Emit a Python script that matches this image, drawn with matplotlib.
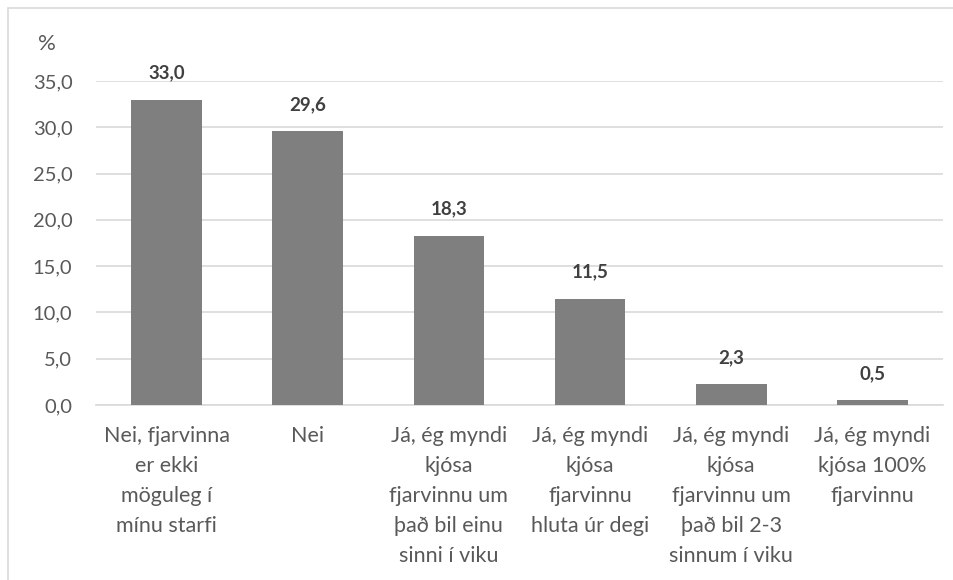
import matplotlib
matplotlib.use("Agg")
import matplotlib.pyplot as plt
from matplotlib.ticker import FuncFormatter
from matplotlib.patches import Rectangle

categories = [
    "Nei, fjarvinna\ner ekki\nmöguleg í\nmínu starfi",
    "Nei",
    "Já, ég myndi\nkjósa\nfjarvinnu um\nþað bil einu\nsinni í viku",
    "Já, ég myndi\nkjósa\nfjarvinnu\nhluta úr degi",
    "Já, ég myndi\nkjósa\nfjarvinnu um\nþað bil 2-3\nsinnum í viku",
    "Já, ég myndi\nkjósa 100%\nfjarvinnu",
]
values = [33.0, 29.6, 18.3, 11.5, 2.3, 0.5]
y_ticks = [0, 5, 10, 15, 20, 25, 30, 35]

plt.rcParams['font.family'] = ['Lato', 'DejaVu Sans']
text_color = "#595959"

fig = plt.figure(figsize=(9.54, 5.80), dpi=100)
# outer border (top and left visible)
fig.patches.append(Rectangle((8/954, -0.1), 1.2, (580-8)/580 + 0.1, transform=fig.transFigure,
                             fill=False, edgecolor="#d9d9d9", linewidth=1.2))

ax = fig.add_axes([96/954, (580-405)/580, (943-96)/954, (405-81)/580])
x = list(range(len(categories)))
ax.bar(x, values, width=0.5, color="#7f7f7f", zorder=3)
ax.set_xlim(-0.5, len(categories) - 0.5)
ax.set_ylim(0, 35)
ax.set_yticks(y_ticks)
ax.yaxis.set_major_formatter(FuncFormatter(lambda v, p: f"{v:.1f}".replace(".", ",")))
ax.grid(axis="y", color="#d9d9d9", linewidth=1.2, zorder=0)
for s in ["top", "right", "left"]:
    ax.spines[s].set_visible(False)
ax.spines["bottom"].set_color("#d9d9d9")
ax.spines["bottom"].set_linewidth(1.2)
ax.tick_params(axis="y", length=0, colors=text_color, labelsize=14.5, pad=17)
ax.tick_params(axis="x", length=0, colors=text_color, labelsize=15.5, pad=15)
ax.set_xticks(x)
ax.set_xticklabels(categories, linespacing=1.62)

for xi, v in zip(x, values):
    ax.annotate(f"{v:.1f}".replace(".", ","), (xi, v), xytext=(0, 19), textcoords="offset points",
                ha="center", va="center", fontsize=13.5, fontweight="bold", color="#404040")

fig.text(47/954, 1 - 44/580, "%", ha="center", va="center", fontsize=16, color=text_color)

fig.savefig("out.png", dpi=100)
